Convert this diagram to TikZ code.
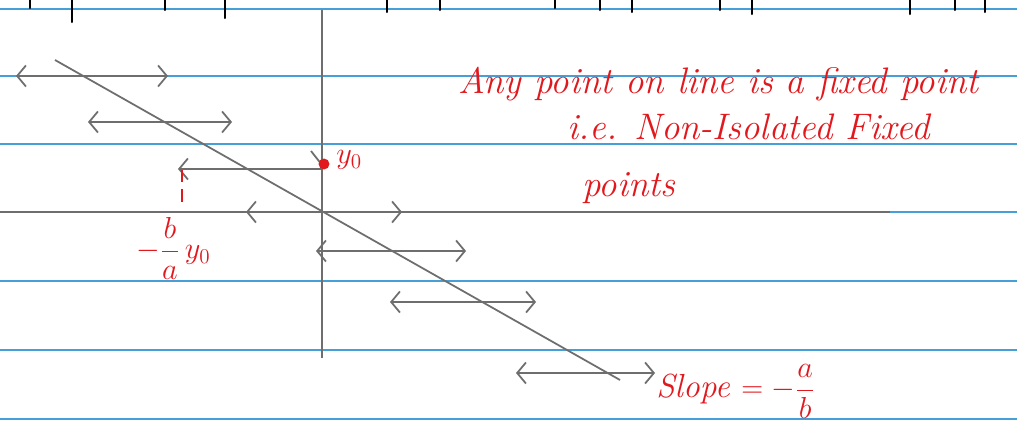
\documentclass[tikz,border=0pt]{standalone}
\usetikzlibrary{arrows.meta}
\definecolor{ruleblue}{RGB}{70,160,215}
\definecolor{pencil}{RGB}{110,110,110}
\definecolor{inkred}{RGB}{225,25,30}
\begin{document}
\begin{tikzpicture}[x=0.02cm,y=-0.02cm,
  rule/.style={draw=ruleblue,line width=1.1pt},
  pencilline/.style={draw=pencil,line width=1pt},
  phase/.style={draw=pencil,line width=1pt,{Straight Barb[length=5pt,width=12pt]}-{Straight Barb[length=5pt,width=12pt]}},
  ink/.style={text=inkred,inner sep=0pt,anchor=base west,font=\itshape\fontsize{21}{24}\selectfont},
  blackink/.style={draw=black,line width=1.2pt,line cap=round}]
\useasboundingbox[fill=white] (0,0) rectangle (1017,438);
% ruled lines
\foreach \yy in {9,76,144,212,281,350,419}{
  \coordinate (rl\yy) at (0,\yy); \coordinate (rr\yy) at (1017,\yy);
  \draw[rule] (rl\yy) -- (rr\yy);}
% cut-off handwriting at top
\foreach \xx/\dy in {30/8,72/22,165/10,225/18,387/12,440/10,555/8,600/10,632/12,720/10,752/14,910/14,955/10,985/12}{
  \coordinate (t\xx) at (\xx,0); \coordinate (b\xx) at (\xx,\dy);
  \draw[blackink] (t\xx) -- (b\xx);}
% axes
\coordinate (ytop) at (322,10); \coordinate (ybot) at (322,358);
\coordinate (xl) at (0,212); \coordinate (xr) at (890,212);
\draw[pencilline,line width=1.2pt] (ytop) -- (ybot);
\draw[pencilline,line width=1.3pt] (xl) -- (xr);
% line of fixed points
\coordinate (d1) at (55,60); \coordinate (d2) at (620,380);
\draw[pencilline] (d1) -- (d2);
% phase lines
\coordinate (p1a) at (16,76);  \coordinate (p1b) at (168,76);
\coordinate (p2a) at (88,122); \coordinate (p2b) at (232,122);
\coordinate (p4a) at (316,251); \coordinate (p4b) at (466,251);
\coordinate (p5a) at (390,302); \coordinate (p5b) at (536,302);
\coordinate (p6a) at (516,373); \coordinate (p6b) at (655,373);
\foreach \n in {1,2,4,5,6}{\draw[phase] (p\n a) -- (p\n b);}
\coordinate (p3a) at (178,169); \coordinate (p3b) at (322,169);
\draw[pencilline,{Straight Barb[length=5pt,width=12pt]}-] (p3a) -- (p3b);
% arrows on x-axis
\coordinate (xa1) at (262,212); \coordinate (xa0) at (246,212);
\coordinate (xb1) at (385,212); \coordinate (xb0) at (402,212);
\draw[pencilline,-{Straight Barb[length=5pt,width=12pt]}] (xa1) -- (xa0);
\draw[pencilline,-{Straight Barb[length=5pt,width=12pt]}] (xb1) -- (xb0);
% y0 point
\coordinate (tk1) at (311,151); \coordinate (tk2) at (322,165);
\draw[pencilline] (tk1) -- (tk2);
\node[circle,fill=inkred,inner sep=2.2pt] (y0dot) at (324,164) {};
\node[ink,font=\itshape\fontsize{18}{20}\selectfont] (y0lab) at (336,164) {$y_0$};
% intercept tick
\coordinate (it1) at (182,170); \coordinate (it2) at (182,202);
\draw[draw=inkred,line width=1.3pt,dash pattern=on 7pt off 4pt] (it1) -- (it2);
\node[ink,font=\fontsize{17}{20}\selectfont] (xint) at (136,259) {$\displaystyle -\frac{b}{a}\,y_0$};
% annotations
\node[ink] (t1) at (458,94) {Any point on line is a fixed point};
\node[ink] (t2) at (567,140) {i.e. Non-Isolated Fixed};
\node[ink] (t3) at (582,197) {points};
\node[ink,font=\itshape\fontsize{19}{22}\selectfont] (slope) at (656,398) {Slope $\displaystyle = -\frac{a}{b}$};
\end{tikzpicture}
\end{document}
